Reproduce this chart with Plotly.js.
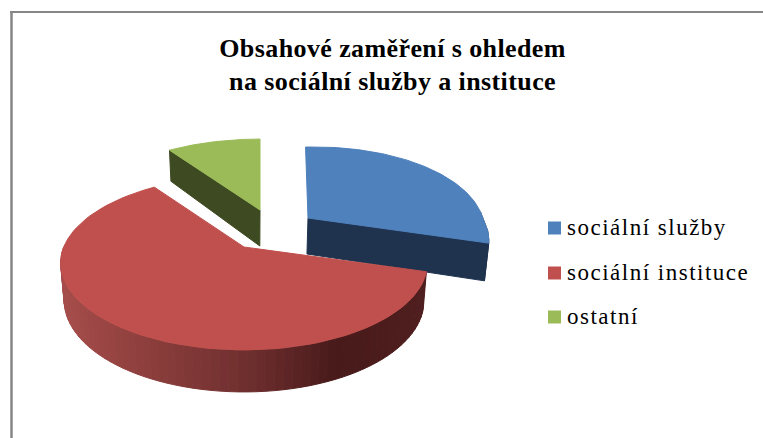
<!DOCTYPE html>
<html>
<head>
<meta charset="utf-8">
<script src="https://cdn.plot.ly/plotly-3.0.1.min.js"></script>
<style>
html, body { margin: 0; padding: 0; background: #fff; }
#chart { width: 763px; height: 438px; }
.annotation-text { letter-spacing: 1.5px; }
.gtitle { letter-spacing: 0.4px; }
</style>
</head>
<body>
<div id="chart"></div>
<script>
const categories = ['sociální služby', 'sociální instituce', 'ostatní'];
const shares = [29.5, 60.8, 9.7];
const topColors = ['#4f81bd', '#c0504d', '#9bbb59'];
const sideColors = ['#1f334f', '#4a1c1c', '#3e4a21'];
const chartTitle = 'Obsahové zaměření s ohledem<br>na sociální služby a instituce';

// the pie is tilted, so the plane is projected with a little perspective
const radiusX = 182, radiusY = 84, perspective = 0.184;
const slicePivots = [[308, 218], [244, 247], [260, 210]];
const sliceScaleX = [0.96, 0.99, 1];
const sliceLean = [0.04, 0, 0];
const sliceBulge = [0.03, 0, 0];

function project(sliceIndex, angle, radius) {
    const r = radius * (1 + sliceBulge[sliceIndex] * Math.abs(Math.sin(2 * angle)));
    const u = Math.sin(angle) * r;
    const v = -Math.cos(angle) * r;
    const s = 1 / (1 - perspective * v);
    const pivot = slicePivots[sliceIndex];
    return {
        x: pivot[0] + radiusX * sliceScaleX[sliceIndex] * u * s + sliceLean[sliceIndex] * radiusX * v * s * 0.4,
        y: pivot[1] + radiusY * v * s,
        depth: 36 + 6 * v
    };
}

function polygonTrace(points, color) {
    return {
        type: 'scatter',
        mode: 'lines',
        x: points.map(p => p.x),
        y: points.map(p => p.y),
        fill: 'toself',
        fillcolor: color,
        line: { color: color, width: 1 },
        hoverinfo: 'skip',
        showlegend: false
    };
}

// bottom edge of the pie, drawn in slightly because it is further from the eye
function lowered(p) {
    return { x: 250 + (p.x - 250) * 0.982, y: p.y + p.depth };
}

function mixColor(a, b, t) {
    return 'rgb(' + a.map((c, i) => Math.round(c + (b[i] - c) * t)).join(',') + ')';
}

// red rim shading, light on the left and darkest just right of the middle
function rimColor(x) {
    const stops = [[60, [166, 77, 75]], [150, [139, 62, 60]], [250, [110, 46, 46]], [335, [72, 26, 26]], [430, [80, 30, 30]]];
    for (let i = 1; i < stops.length; i++) {
        if (x <= stops[i][0]) {
            const t = (x - stops[i - 1][0]) / (stops[i][0] - stops[i - 1][0]);
            return mixColor(stops[i - 1][1], stops[i][1], Math.max(t, 0));
        }
    }
    return mixColor(stops[4][1], stops[4][1], 0);
}

function buildTraces() {
    const total = shares.reduce((sum, v) => sum + v, 0);
    const sideTraces = [];
    const topTraces = [];
    let start = 0;

    shares.forEach((share, index) => {
        const end = start + share / total * 2 * Math.PI;
        const arc = [];
        const steps = 90;
        for (let i = 0; i <= steps; i++) {
            arc.push(project(index, start + (end - start) * i / steps, 1));
        }
        const pivot = project(index, 0, 0);

        if (index === 1) {
            // outer rim, only the part facing the viewer
            const front = [];
            for (let i = 0; i <= steps; i++) {
                const a = start + (end - start) * i / steps;
                if (a <= 1.52 * Math.PI) front.push(project(index, a, 1));
            }
            for (let i = 1; i < front.length; i++) {
                const quad = [front[i - 1], front[i], lowered(front[i]), lowered(front[i - 1]), front[i - 1]];
                sideTraces.push(polygonTrace(quad, rimColor((front[i - 1].x + front[i].x) / 2)));
            }
        } else {
            // cut face towards the viewer
            const edge = index === 0 ? arc[steps] : arc[0];
            const cut = [pivot, edge, lowered(edge), lowered(pivot), pivot];
            sideTraces.push(polygonTrace(cut, sideColors[index]));
            if (index === 0) {
                const rim = arc.filter((p, i) => i > steps * 0.8);
                const rimPoly = rim.concat(rim.slice().reverse().map(lowered));
                rimPoly.push(rim[0]);
                sideTraces.push(polygonTrace(rimPoly, sideColors[index]));
            }
        }

        topTraces.push(polygonTrace([pivot].concat(arc, [pivot]), topColors[index]));
        start = end;
    });
    return sideTraces.concat(topTraces);
}

const legendRows = [228, 273, 317];
const legendSwatches = categories.map((name, i) => ({
    type: 'rect', xref: 'x', yref: 'y',
    x0: 548, x1: 561, y0: legendRows[i] - 6.5, y1: legendRows[i] + 6.5,
    fillcolor: topColors[i], line: { width: 0 }
}));
const legendLabels = categories.map((name, i) => ({
    xref: 'x', yref: 'y', x: 565, y: legendRows[i] - 1,
    text: name, showarrow: false, xanchor: 'left', yanchor: 'middle',
    font: { family: 'Liberation Serif', size: 23, color: '#000' }
}));

const frame = [
    { type: 'line', xref: 'x', yref: 'y', x0: 11.5, x1: 11.5, y0: 11, y1: 438, line: { color: '#868686', width: 2.5 } },
    { type: 'line', xref: 'x', yref: 'y', x0: 10, x1: 763, y0: 12, y1: 12, line: { color: '#868686', width: 2 } }
];

const layout = {
    width: 763,
    height: 438,
    margin: { l: 0, r: 0, t: 0, b: 0 },
    paper_bgcolor: '#fff',
    plot_bgcolor: '#fff',
    showlegend: false,
    hovermode: false,
    title: {
        text: chartTitle,
        x: 0.5145, xanchor: 'center', y: 0.871, yanchor: 'middle',
        font: { family: 'Liberation Serif', size: 26, color: '#000', weight: 700 }
    },
    xaxis: { range: [0, 763], visible: false, fixedrange: true },
    yaxis: { range: [438, 0], visible: false, fixedrange: true },
    shapes: frame.concat(legendSwatches),
    annotations: legendLabels
};

Plotly.newPlot('chart', buildTraces(), layout, { displayModeBar: false, staticPlot: true });
</script>
</body>
</html>
